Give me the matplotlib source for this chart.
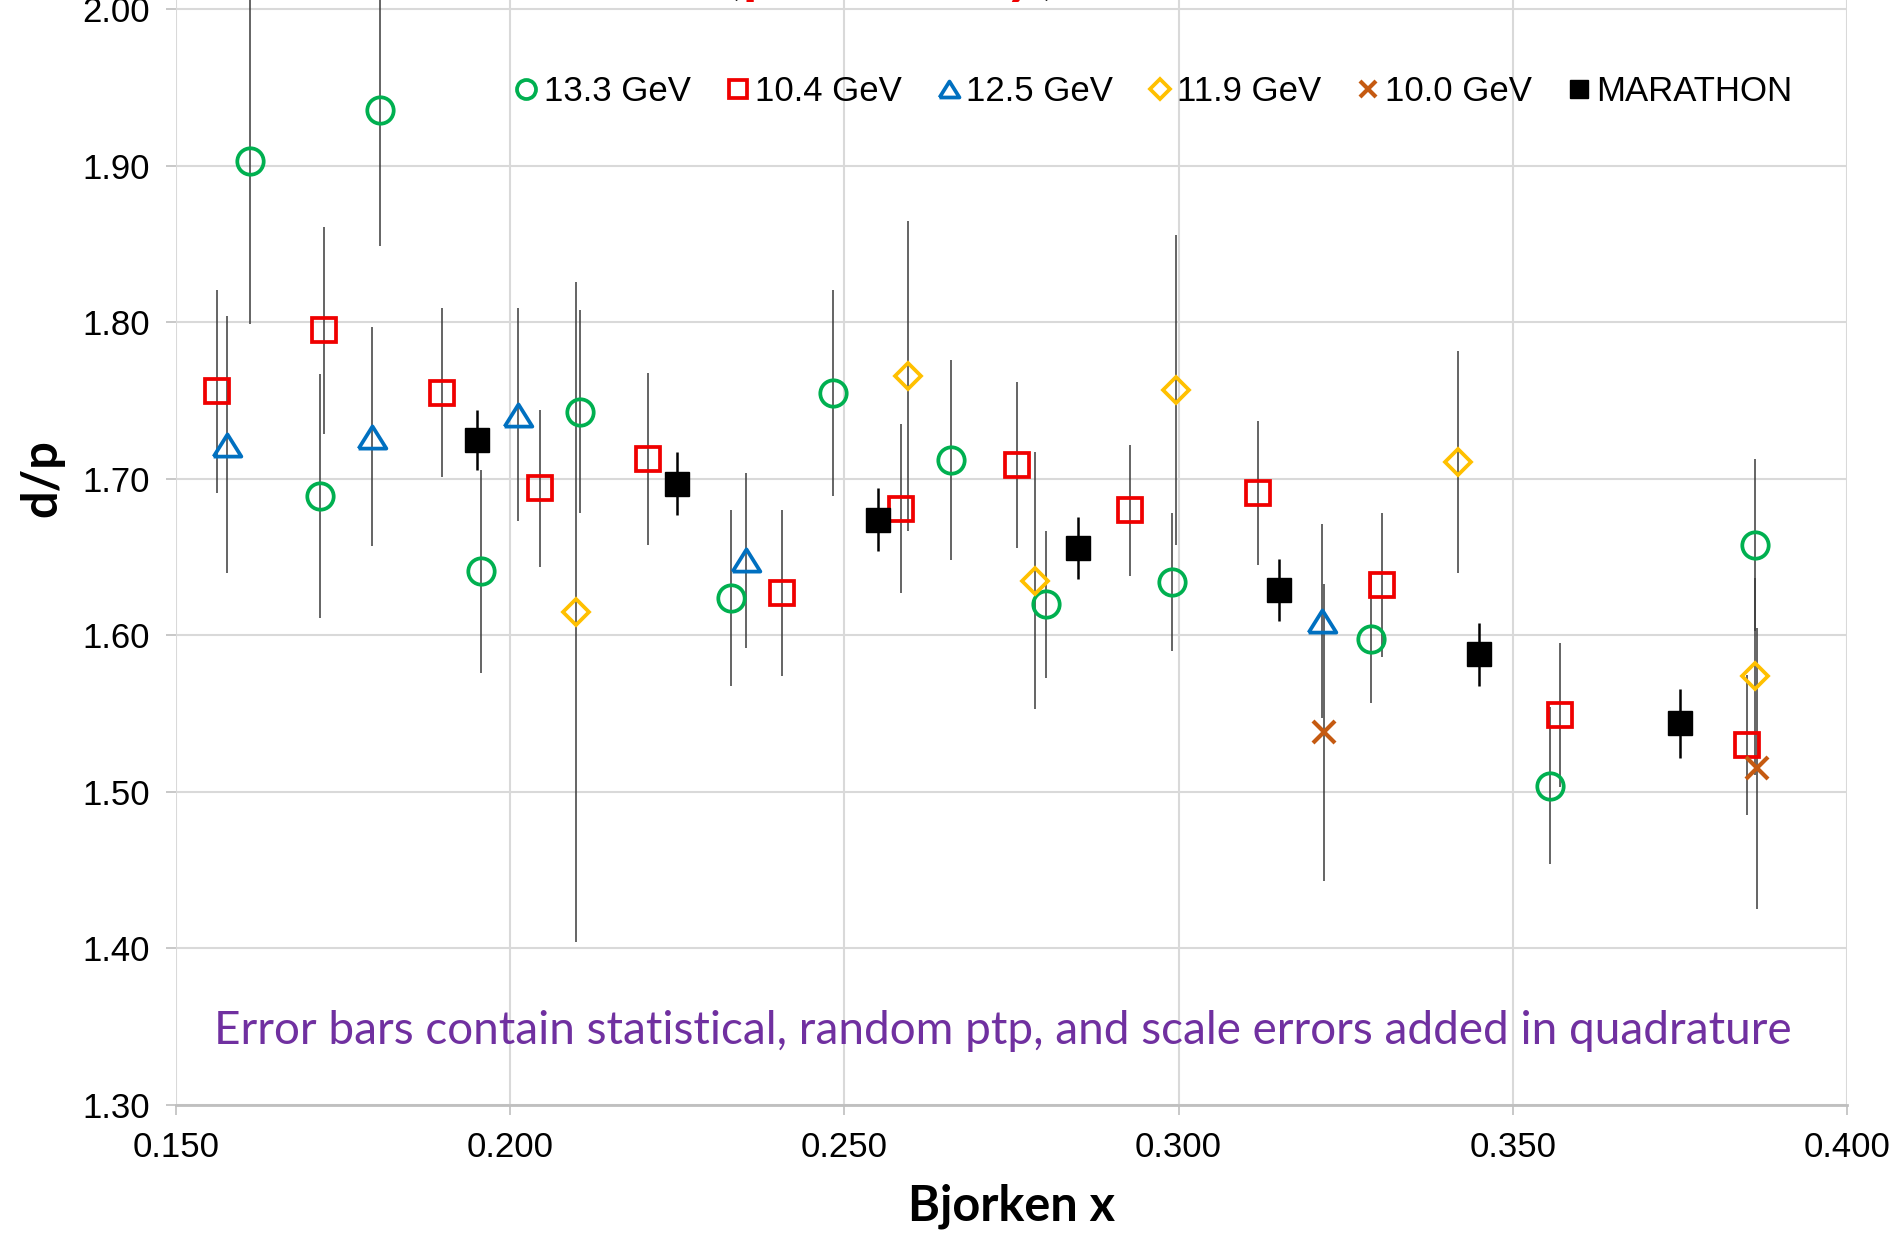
import numpy as np
import matplotlib
matplotlib.use("Agg")
import matplotlib.pyplot as plt
from matplotlib.ticker import FormatStrFormatter

# 13.3 GeV
x_133 = [0.1611, 0.1715, 0.1805, 0.1956, 0.2105, 0.2331, 0.2483, 0.2659, 0.2801, 0.2990, 0.3288, 0.3556, 0.3862]
y_133 = [1.903, 1.689, 1.936, 1.641, 1.743, 1.624, 1.755, 1.712, 1.620, 1.634, 1.598, 1.504, 1.658]
e_133 = [0.104, 0.078, 0.087, 0.065, 0.065, 0.056, 0.066, 0.064, 0.047, 0.044, 0.041, 0.050, 0.055]

# 10.4 GeV
x_104 = [0.1562, 0.1722, 0.1898, 0.2044, 0.2206, 0.2406, 0.2584, 0.2758, 0.2928, 0.3119, 0.3305, 0.3570, 0.3850]
y_104 = [1.756, 1.795, 1.755, 1.694, 1.713, 1.627, 1.681, 1.709, 1.680, 1.691, 1.632, 1.549, 1.530]
e_104 = [0.065, 0.066, 0.054, 0.050, 0.055, 0.053, 0.054, 0.053, 0.042, 0.046, 0.046, 0.046, 0.045]

# 12.5 GeV
x_125 = [0.1577, 0.1793, 0.2011, 0.2353, 0.3215]
y_125 = [1.722, 1.727, 1.741, 1.648, 1.609]
e_125 = [0.082, 0.070, 0.068, 0.056, 0.062]

# 11.9 GeV
x_119 = [0.2098, 0.2595, 0.2785, 0.2996, 0.3418, 0.3862]
y_119 = [1.615, 1.766, 1.635, 1.757, 1.711, 1.574]
e_119 = [0.211, 0.099, 0.082, 0.099, 0.071, 0.063]

# 10.0 GeV
x_100 = [0.3218, 0.3866]
y_100 = [1.538, 1.515]
e_100 = [0.095, 0.090]

# MARATHON
x_mar = [0.195, 0.225, 0.255, 0.285, 0.315, 0.345, 0.375]
y_mar = [1.725, 1.697, 1.674, 1.656, 1.629, 1.588, 1.544]
e_mar = [0.019, 0.020, 0.020, 0.020, 0.020, 0.020, 0.022]

x_ticks = [0.150, 0.200, 0.250, 0.300, 0.350, 0.400]
y_ticks = [1.30, 1.40, 1.50, 1.60, 1.70, 1.80, 1.90, 2.00]

green = '#00B050'
red = '#F00000'
blue = '#0070C0'
gold = '#FFC000'
orange = '#C55A11'
purple = '#7030A0'

tri = [(-1, -0.8), (1, -0.8), (0, 0.8), (-1, -0.8)]

W, H = 1901, 1239
fig = plt.figure(figsize=(W / 100, H / 100), dpi=100)
ax = fig.add_axes([176 / W, 1 - 1105 / H, (1847 - 176) / W, 1105 / H])

series = [
    (x_133, y_133, e_133, dict(marker='o', ms=19, mfc='none', mec=green, mew=2.7), '13.3 GeV'),
    (x_104, y_104, e_104, dict(marker='s', ms=17.5, mfc='none', mec=red, mew=2.7), '10.4 GeV'),
    (x_125, y_125, e_125, dict(marker=tri, ms=20, mfc='none', mec=blue, mew=2.7), '12.5 GeV'),
    (x_119, y_119, e_119, dict(marker='D', ms=13.5, mfc='none', mec=gold, mew=2.7), '11.9 GeV'),
    (x_100, y_100, e_100, dict(marker='x', ms=16, mec=orange, mew=3), '10.0 GeV'),
    (x_mar, y_mar, e_mar, dict(marker='s', ms=17.5, mfc='black', mec='black', mew=1), 'MARATHON'),
]

for xs, ys, es, style, lab in series:
    if lab == 'MARATHON':
        ax.errorbar(xs, ys, yerr=es, fmt='none', ecolor='black', elinewidth=1.8, capsize=0, zorder=3)
    else:
        ax.errorbar(xs, ys, yerr=es, fmt='none', ecolor='#3a3a3a', elinewidth=1.1, capsize=0, zorder=3)
    ax.plot(xs, ys, linestyle='none', label=lab, zorder=4, **style)

ax.set_xlim(0.150, 0.400)
ax.set_ylim(1.30, 2.006)
ax.set_xticks(x_ticks)
ax.set_yticks(y_ticks)
ax.xaxis.set_major_formatter(FormatStrFormatter('%.3f'))
ax.yaxis.set_major_formatter(FormatStrFormatter('%.2f'))
ax.grid(True, color='#D9D9D9', lw=1.5, zorder=0)
ax.set_axisbelow(True)
for s in ['top', 'left', 'right']:
    ax.spines[s].set_visible(False)
ax.spines['bottom'].set_color('#BFBFBF')
ax.spines['bottom'].set_linewidth(2)
ax.tick_params(axis='both', direction='out', length=7, width=1.2, color='#BFBFBF',
               labelsize=25, pad=12)
for t in ax.get_xticklabels() + ax.get_yticklabels():
    t.set_family('Liberation Sans')

ax.legend(ncol=6, loc='center', bbox_to_anchor=(0.585, 0.917), frameon=False,
          handlelength=0.7, handletextpad=0.15, columnspacing=1.0, markerscale=0.72,
          prop={'family': 'Liberation Sans', 'size': 25}, borderaxespad=0)

fig.text(1003 / W, 1 - 1031 / H,
         'Error bars contain statistical, random ptp, and scale errors added in quadrature',
         color=purple, family='Lato', fontsize=33, ha='center', va='center')

fig.text(1011 / W, 1 - 1206 / H, 'Bjorken x', family='Lato', fontweight='bold',
         fontsize=35, ha='center', va='center')
fig.text(42 / W, 1 - 478 / H, 'd/p', family='Lato', fontweight='bold',
         fontsize=35, ha='center', va='center', rotation=90)

# title cut off at the top edge, only descenders show (as in the reference)
fig.text(742 / W, 1 + 8 / H, '(', family='Lato', fontweight='bold', fontsize=42,
         ha='right', va='baseline')
fig.text(742 / W, 1 + 8 / H, 'preliminary', family='Lato', fontweight='bold', fontsize=42,
         color=red, ha='left', va='baseline')
fig.text(1040 / W, 1 + 8 / H, ')', family='Lato', fontweight='bold', fontsize=42,
         ha='left', va='baseline')

fig.savefig('out.png', dpi=100, facecolor='white')
